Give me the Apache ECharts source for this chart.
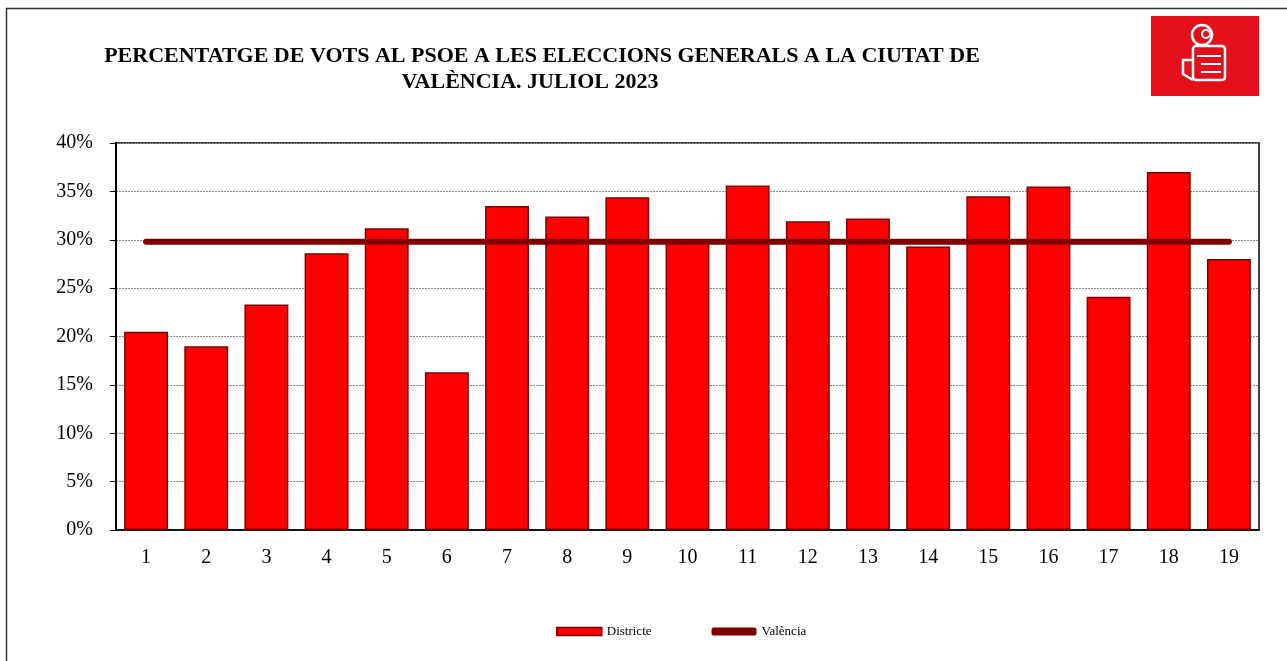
<!DOCTYPE html>
<html>
<head>
<meta charset="utf-8">
<script src="https://cdn.jsdelivr.net/npm/echarts@6/dist/echarts.min.js"></script>
<style>
  html, body { margin: 0; padding: 0; background: #fff; }
  #main { width: 1287px; height: 661px; }
</style>
</head>
<body>
<div id="main"></div>
<script>
  // dades llegides del gràfic
  const districtes = ['1', '2', '3', '4', '5', '6', '7', '8', '9', '10', '11', '12', '13', '14', '15', '16', '17', '18', '19']
  const vots = [20.5, 19.0, 23.3, 28.6, 31.2, 16.3, 33.5, 32.4, 34.4, 29.7, 35.6, 31.9, 32.2, 29.3, 34.5, 35.5, 24.1, 37.0, 28.0]
  const valenciaTotal = 29.8
  const valencia = districtes.map(() => valenciaTotal)
  const yTicks = [0, 5, 10, 15, 20, 25, 30, 35, 40]

  const serif = '"Liberation Serif", "DejaVu Serif", serif'
  const chart = echarts.init(document.getElementById('main'))

  const option = {
    backgroundColor: '#fff',
    animation: false,
    title: [
      {
        text: 'PERCENTATGE DE VOTS AL PSOE A LES ELECCIONS GENERALS A LA CIUTAT DE',
        left: 537, top: 40, textAlign: 'center',
        textStyle: { fontFamily: serif, fontSize: 22, fontWeight: 'bold', color: '#000' }
      },
      {
        text: 'VALÈNCIA. JULIOL 2023',
        left: 525, top: 66, textAlign: 'center',
        textStyle: { fontFamily: serif, fontSize: 22, fontWeight: 'bold', color: '#000' }
      }
    ],
    grid: {
      left: 116, right: 28, top: 143, bottom: 131,
      show: true, borderColor: '#000', borderWidth: 1.5, containLabel: false
    },
    legend: {
      bottom: 18,
      left: 551,
      itemGap: 60,
      itemWidth: 45,
      itemHeight: 8,
      textStyle: { fontFamily: serif, fontSize: 13, color: '#000' },
      data: [
        { name: 'Districte', icon: 'rect', itemStyle: { color: '#ff0000', borderColor: '#800000', borderWidth: 1.5 } },
        { name: 'València', icon: 'roundRect', itemHeight: 4, itemStyle: { color: '#800000' } }
      ],
      selectedMode: false
    },
    xAxis: {
      type: 'category',
      data: districtes,
      axisLine: { lineStyle: { color: '#000', width: 1.5 } },
      axisTick: { show: false },
      axisLabel: { fontFamily: serif, fontSize: 20, color: '#000', margin: 18 }
    },
    yAxis: {
      type: 'value',
      min: 0, max: 40, interval: 5,
      axisLine: { show: true, lineStyle: { color: '#000', width: 2 } },
      axisTick: { show: true, length: 6, lineStyle: { color: '#000' } },
      axisLabel: {
        fontFamily: serif, fontSize: 20, color: '#000', margin: 23,
        formatter: (v) => (yTicks.includes(v) ? v + '%' : '')
      },
      splitLine: { lineStyle: { color: '#888', type: [2, 1], width: 1 } }
    },
    series: [
      {
        name: 'Districte',
        type: 'bar',
        data: vots,
        barCategoryGap: '27%',
        itemStyle: { color: '#ff0000', borderColor: '#800000', borderWidth: 1.5 },
        z: 2
      },
      {
        name: 'València',
        type: 'line',
        data: valencia,
        symbol: 'none',
        lineStyle: { color: '#800000', width: 6, cap: 'round' },
        itemStyle: { color: '#800000' },
        z: 3
      }
    ],
    graphic: [
      // marc exterior
      {
        type: 'rect', shape: { x: 6.5, y: 8.5, width: 1300, height: 700 },
        style: { fill: 'none', stroke: '#333', lineWidth: 1.5 }, silent: true
      },
      // logotip
      {
        type: 'group', left: 1151, top: 16,
        children: [
          { type: 'rect', shape: { x: 0, y: 0, width: 108, height: 80 }, style: { fill: '#e3101c' } },
          { type: 'circle', shape: { cx: 51, cy: 19, r: 10 }, style: { fill: 'none', stroke: '#fff', lineWidth: 2.5 } },
          { type: 'circle', shape: { cx: 55, cy: 18, r: 4 }, style: { fill: 'none', stroke: '#fff', lineWidth: 2 } },
          { type: 'rect', shape: { x: 42, y: 30, width: 32, height: 34, r: 3 }, style: { fill: 'none', stroke: '#fff', lineWidth: 2.5 } },
          { type: 'line', shape: { x1: 46, y1: 40, x2: 70, y2: 40 }, style: { stroke: '#fff', lineWidth: 2 } },
          { type: 'line', shape: { x1: 50, y1: 48, x2: 70, y2: 48 }, style: { stroke: '#fff', lineWidth: 2 } },
          { type: 'line', shape: { x1: 50, y1: 56, x2: 70, y2: 56 }, style: { stroke: '#fff', lineWidth: 2 } },
          { type: 'polyline', shape: { points: [[42, 44], [32, 44], [32, 58], [42, 64]] }, style: { fill: 'none', stroke: '#fff', lineWidth: 2.5 } }
        ]
      }
    ]
  }

  chart.setOption(option)
</script>
</body>
</html>
